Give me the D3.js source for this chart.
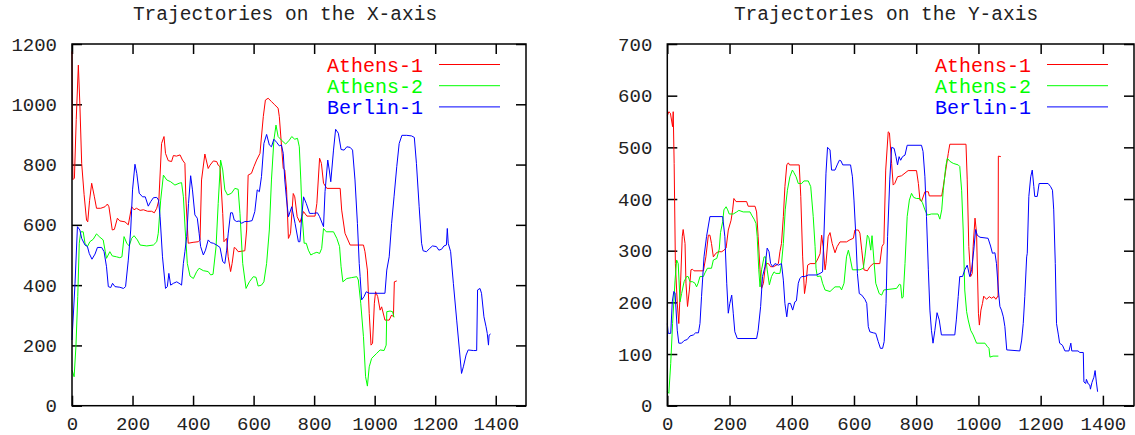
<!DOCTYPE html>
<html>
<head>
<meta charset="utf-8">
<script src="https://cdn.jsdelivr.net/npm/d3@7"></script>
<style>
    body { margin: 0; background: #fff; }
    svg { display: block; }
    .tick text { font-family: "Liberation Mono", monospace; font-size: 19px; fill: #222; }
    .title { font-family: "Liberation Mono", monospace; font-size: 19.5px; fill: #222; }
    .legend-text { font-family: "Liberation Mono", monospace; font-size: 20px; }
</style>
</head>
<body>
<svg id="chart" width="1135" height="435"></svg>
<script>
'use strict';

// series names and colours (legend order)
const seriesNames = ['Athens-1', 'Athens-2', 'Berlin-1'];
const seriesColors = ['#ff0000', '#00ff00', '#0000ff'];

const xTicks = [0, 200, 400, 600, 800, 1000, 1200, 1400];
const yTicksX = [0, 200, 400, 600, 800, 1000, 1200];
const yTicksY = [0, 100, 200, 300, 400, 500, 600, 700];

// [frame, position]
const athens1X = [[0,1175],[3,750],[8,755],[14,950],[21,1130],[26,1000],[32,804],[40,700],[48,616],[52,610],[58,680],[65,738],[74,693],[81,655],[95,655],[109,660],[117,669],[122,660],[133,583],[140,585],[150,622],[158,613],[175,610],[186,600],[197,660],[205,650],[213,655],[225,648],[236,650],[250,645],[263,645],[272,640],[280,655],[287,682],[296,870],[304,893],[309,837],[318,813],[329,810],[335,830],[345,828],[357,832],[365,815],[373,804],[376,693],[384,539],[400,542],[417,544],[423,550],[428,749],[439,835],[450,787],[456,798],[467,812],[478,810],[483,798],[489,793],[498,638],[502,544],[511,555],[516,494],[524,445],[529,472],[536,525],[541,522],[549,511],[571,514],[577,583],[582,765],[593,771],[601,793],[610,815],[621,837],[632,959],[639,1014],[648,1020],[659,1009],[670,998],[681,987],[685,959],[692,865],[698,787],[703,782],[709,716],[715,555],[718,561],[722,572],[731,704],[736,693],[744,627],[753,608],[765,644],[776,629],[803,629],[809,671],[818,821],[824,804],[831,738],[842,721],[886,721],[891,649],[902,572],[919,533],[963,533],[968,511],[976,450],[982,306],[988,201],[993,207],[999,340],[1003,378],[1010,362],[1018,317],[1023,328],[1034,284],[1048,284],[1056,301],[1062,295],[1065,411],[1073,414]];

const athens2X = [[0,118],[7,96],[13,196],[19,362],[24,539],[29,577],[37,577],[43,539],[51,528],[59,544],[70,552],[81,570],[92,559],[103,550],[110,511],[114,489],[125,511],[133,497],[147,494],[158,491],[165,494],[172,561],[181,539],[189,530],[197,555],[205,564],[216,550],[225,533],[247,530],[269,533],[280,544],[285,572],[293,682],[302,765],[313,749],[326,743],[340,732],[354,738],[362,740],[368,693],[374,583],[381,472],[390,430],[401,422],[412,445],[420,456],[434,448],[450,445],[458,434],[466,436],[476,528],[483,671],[491,815],[498,782],[505,716],[514,699],[527,705],[538,721],[549,718],[555,638],[564,472],[575,389],[586,411],[599,428],[608,426],[615,397],[626,400],[634,411],[643,472],[652,583],[659,749],[667,881],[674,931],[681,893],[692,881],[706,868],[718,881],[726,893],[736,884],[745,887],[751,859],[756,749],[760,638],[767,539],[774,539],[781,516],[789,500],[798,505],[809,509],[818,505],[825,522],[831,588],[840,577],[864,577],[875,555],[884,528],[889,461],[895,411],[908,422],[924,425],[941,428],[946,417],[954,340],[963,229],[970,96],[976,65],[982,129],[990,157],[1007,174],[1018,185],[1031,183],[1038,201],[1040,312],[1051,314],[1059,312],[1064,293]];

const berlin1X = [[0,218],[10,406],[18,594],[26,583],[32,555],[43,533],[51,528],[57,505],[66,486],[76,503],[84,525],[98,525],[106,511],[114,461],[120,395],[128,392],[134,406],[142,395],[158,393],[170,389],[177,395],[186,483],[194,583],[200,716],[208,801],[214,771],[222,705],[233,693],[242,693],[252,662],[260,677],[269,690],[280,691],[286,682],[291,627],[299,494],[309,389],[315,395],[320,439],[326,400],[335,406],[346,411],[357,404],[362,400],[368,472],[373,511],[379,561],[385,671],[392,763],[398,716],[406,633],[414,622],[420,572],[425,528],[434,500],[441,516],[450,550],[458,541],[467,539],[478,533],[489,525],[498,478],[505,472],[511,516],[516,570],[524,640],[530,640],[536,616],[544,611],[553,613],[560,605],[571,611],[582,611],[595,614],[604,644],[612,716],[619,710],[626,760],[634,870],[643,900],[652,865],[659,859],[667,884],[676,874],[685,862],[692,865],[698,837],[703,749],[708,693],[715,627],[726,660],[737,605],[748,544],[753,544],[759,627],[765,693],[774,671],[785,638],[798,638],[811,640],[818,627],[831,594],[836,710],[845,815],[850,782],[855,743],[864,848],[871,917],[880,904],[889,850],[899,848],[908,859],[919,857],[927,848],[935,749],[943,605],[949,472],[952,428],[957,351],[965,362],[972,378],[982,373],[1007,373],[1034,373],[1040,450],[1048,494],[1056,605],[1064,693],[1073,793],[1081,870],[1090,897],[1106,897],[1122,895],[1131,890],[1138,804],[1147,660],[1155,539],[1160,514],[1171,511],[1182,522],[1191,530],[1204,528],[1212,516],[1221,519],[1229,530],[1237,533],[1240,588],[1243,539],[1251,511],[1260,406],[1271,284],[1280,185],[1287,107],[1293,129],[1302,168],[1309,185],[1326,183],[1337,183],[1340,384],[1348,389],[1353,373],[1361,295],[1368,262],[1372,240],[1376,201],[1378,234],[1383,238]];

const athens1Y = [[0,561],[5,569],[10,566],[17,540],[19,569],[22,469],[26,275],[32,198],[37,159],[43,243],[48,327],[51,341],[57,314],[60,237],[65,192],[71,224],[76,263],[81,264],[86,261],[116,261],[124,288],[132,330],[137,330],[142,314],[148,288],[156,295],[164,298],[175,298],[182,301],[189,305],[196,340],[205,359],[210,379],[214,401],[221,395],[255,395],[260,386],[282,386],[287,375],[292,327],[298,263],[303,227],[309,237],[316,275],[325,275],[332,269],[341,269],[351,272],[357,275],[362,298],[367,314],[373,366],[378,424],[384,466],[389,470],[393,466],[424,466],[429,405],[435,288],[441,217],[446,237],[451,272],[459,275],[475,275],[482,282],[491,294],[496,330],[501,308],[507,263],[510,275],[517,327],[523,335],[530,314],[539,296],[546,308],[555,317],[576,317],[587,321],[598,324],[603,340],[614,340],[619,334],[625,301],[632,263],[643,261],[651,269],[662,275],[683,275],[690,308],[696,314],[702,456],[710,530],[714,528],[721,469],[726,427],[731,430],[740,443],[753,445],[774,455],[801,455],[807,430],[812,398],[817,395],[828,414],[839,414],[842,406],[882,406],[887,424],[895,456],[903,488],[908,506],[960,506],[964,437],[969,308],[975,250],[980,256],[983,308],[989,363],[994,334],[1000,179],[1003,156],[1008,185],[1013,198],[1017,212],[1026,206],[1035,211],[1042,208],[1050,211],[1056,206],[1061,211],[1063,210],[1064,483],[1072,482]];

const athens2Y = [[0,27],[5,24],[11,82],[17,159],[25,243],[30,282],[35,275],[41,201],[46,217],[54,240],[62,250],[67,250],[73,240],[81,240],[89,237],[94,230],[99,237],[105,250],[116,250],[121,257],[129,266],[142,266],[148,282],[159,285],[167,303],[171,335],[178,356],[182,379],[189,385],[194,379],[199,371],[212,371],[223,375],[230,378],[244,375],[266,375],[271,369],[279,361],[285,353],[289,327],[294,263],[298,230],[303,263],[311,288],[316,288],[321,263],[328,234],[335,250],[343,259],[349,256],[362,256],[367,275],[373,314],[379,379],[386,417],[394,443],[402,456],[407,451],[414,443],[421,430],[432,430],[439,435],[453,435],[461,424],[469,366],[475,308],[478,266],[482,250],[493,251],[499,237],[507,224],[523,221],[539,230],[555,230],[560,224],[568,237],[576,288],[582,301],[587,288],[595,263],[619,263],[630,266],[635,288],[643,330],[648,325],[654,301],[658,329],[664,282],[670,237],[681,217],[689,214],[696,224],[737,227],[746,235],[750,234],[754,208],[758,210],[764,275],[771,366],[778,398],[785,411],[792,403],[801,401],[812,401],[820,393],[828,379],[836,369],[849,371],[870,371],[876,361],[882,379],[887,417],[895,463],[900,479],[908,473],[919,469],[935,466],[940,463],[946,417],[951,340],[956,224],[962,182],[967,166],[975,146],[983,137],[994,121],[1021,121],[1028,115],[1034,111],[1037,94],[1047,96],[1064,96]];

const berlin1Y = [[0,159],[3,140],[11,140],[16,201],[21,221],[25,218],[32,146],[37,121],[46,121],[54,126],[64,128],[73,135],[84,137],[91,141],[100,141],[105,159],[110,211],[118,288],[126,327],[137,366],[178,366],[185,327],[191,237],[196,179],[201,198],[207,214],[212,179],[217,143],[225,130],[287,130],[292,146],[300,192],[306,250],[314,269],[321,305],[327,298],[332,275],[339,269],[346,275],[357,272],[367,275],[373,243],[378,198],[384,172],[389,198],[396,198],[403,185],[410,201],[415,203],[421,237],[426,246],[432,250],[442,250],[453,253],[480,253],[491,256],[499,259],[504,340],[510,450],[515,500],[523,495],[528,456],[539,456],[546,466],[553,475],[558,474],[564,466],[589,466],[595,443],[600,398],[605,340],[611,256],[617,217],[625,214],[635,206],[641,198],[646,153],[651,143],[662,141],[670,140],[678,124],[685,111],[692,111],[697,124],[703,198],[708,327],[715,437],[721,500],[729,498],[735,482],[740,466],[745,482],[750,475],[756,482],[764,485],[771,504],[817,504],[822,492],[828,443],[833,366],[839,263],[844,185],[849,146],[854,121],[860,146],[867,180],[874,166],[881,137],[924,137],[929,166],[935,211],[940,250],[949,250],[956,263],[964,272],[972,250],[978,263],[985,301],[991,341],[996,330],[1005,326],[1031,324],[1039,309],[1045,295],[1053,296],[1058,275],[1064,224],[1069,192],[1074,185],[1080,172],[1085,153],[1091,108],[1133,106],[1139,127],[1144,159],[1149,211],[1155,288],[1157,295],[1162,405],[1168,443],[1173,456],[1178,424],[1181,405],[1189,405],[1195,430],[1224,430],[1232,424],[1238,417],[1242,379],[1247,275],[1251,159],[1257,137],[1261,121],[1270,117],[1278,106],[1291,106],[1297,121],[1300,106],[1320,106],[1326,103],[1337,103],[1339,46],[1345,43],[1347,51],[1353,42],[1358,40],[1360,32],[1365,45],[1371,55],[1375,68],[1379,46],[1383,27]];

const svg = d3.select('#chart');

function drawPanel(opts) {
    let x = d3.scaleLinear().domain([0, 1500]).range([opts.left, opts.right]);
    let y = d3.scaleLinear().domain([0, opts.yMax]).range([opts.bottom, opts.top]);
    let g = svg.append('g');
    let tickLen = 10;

    // bottom / left axes with labels, ticks pointing inward
    g.append('g')
        .attr('transform', 'translate(0,' + opts.bottom + ')')
        .call(d3.axisBottom(x).tickValues(xTicks).tickSize(-tickLen).tickSizeOuter(0).tickPadding(11).tickFormat(d3.format('d')));
    g.append('g')
        .attr('transform', 'translate(' + opts.left + ',0)')
        .call(d3.axisLeft(y).tickValues(opts.yTicks).tickSize(-tickLen).tickSizeOuter(0).tickPadding(15).tickFormat(d3.format('d')));

    // mirrored ticks on top / right
    g.append('g')
        .attr('transform', 'translate(0,' + opts.top + ')')
        .call(d3.axisTop(x).tickValues(xTicks).tickSize(-tickLen).tickSizeOuter(0).tickFormat(''));
    g.append('g')
        .attr('transform', 'translate(' + opts.right + ',0)')
        .call(d3.axisRight(y).tickValues(opts.yTicks).tickSize(-tickLen).tickSizeOuter(0).tickFormat(''));

    g.selectAll('.domain').remove();
    g.selectAll('.tick line').attr('stroke', '#000').attr('stroke-width', 1.5);

    let line = d3.line()
        .x(function (d) { return x(d[0]); })
        .y(function (d) { return y(d[1]); });

    opts.series.forEach(function (s, i) {
        g.append('path')
            .datum(s)
            .attr('fill', 'none')
            .attr('stroke', seriesColors[i])
            .attr('stroke-width', 1)
            .attr('stroke-linejoin', 'round')
            .attr('d', line);
    });

    g.append('rect')
        .attr('x', opts.left)
        .attr('y', opts.top)
        .attr('width', opts.right - opts.left)
        .attr('height', opts.bottom - opts.top)
        .attr('fill', 'none')
        .attr('stroke', '#000')
        .attr('stroke-width', 1.5);

    g.append('text')
        .attr('class', 'title')
        .attr('x', opts.titleX)
        .attr('y', 19.5)
        .attr('text-anchor', 'middle')
        .text(opts.title);

    // legend
    let lineEnd = opts.right - 26;
    let lineStart = lineEnd - 61;
    seriesNames.forEach(function (name, i) {
        let ly = opts.top + 20.5 + i * 21.2;
        g.append('line')
            .attr('x1', lineStart).attr('x2', lineEnd)
            .attr('y1', ly).attr('y2', ly)
            .attr('stroke', seriesColors[i])
            .attr('stroke-width', 1);
        g.append('text')
            .attr('class', 'legend-text')
            .attr('x', lineStart - 16)
            .attr('y', ly)
            .attr('dy', '0.36em')
            .attr('text-anchor', 'end')
            .attr('fill', seriesColors[i])
            .text(name);
    });
}

drawPanel({
    left: 72, right: 526, top: 44, bottom: 405.7,
    yMax: 1200, yTicks: yTicksX,
    title: 'Trajectories on the X-axis', titleX: 285,
    series: [athens1X, athens2X, berlin1X]
});

drawPanel({
    left: 667.3, right: 1134, top: 44, bottom: 405.7,
    yMax: 700, yTicks: yTicksY,
    title: 'Trajectories on the Y-axis', titleX: 886,
    series: [athens1Y, athens2Y, berlin1Y]
});
</script>
</body>
</html>
